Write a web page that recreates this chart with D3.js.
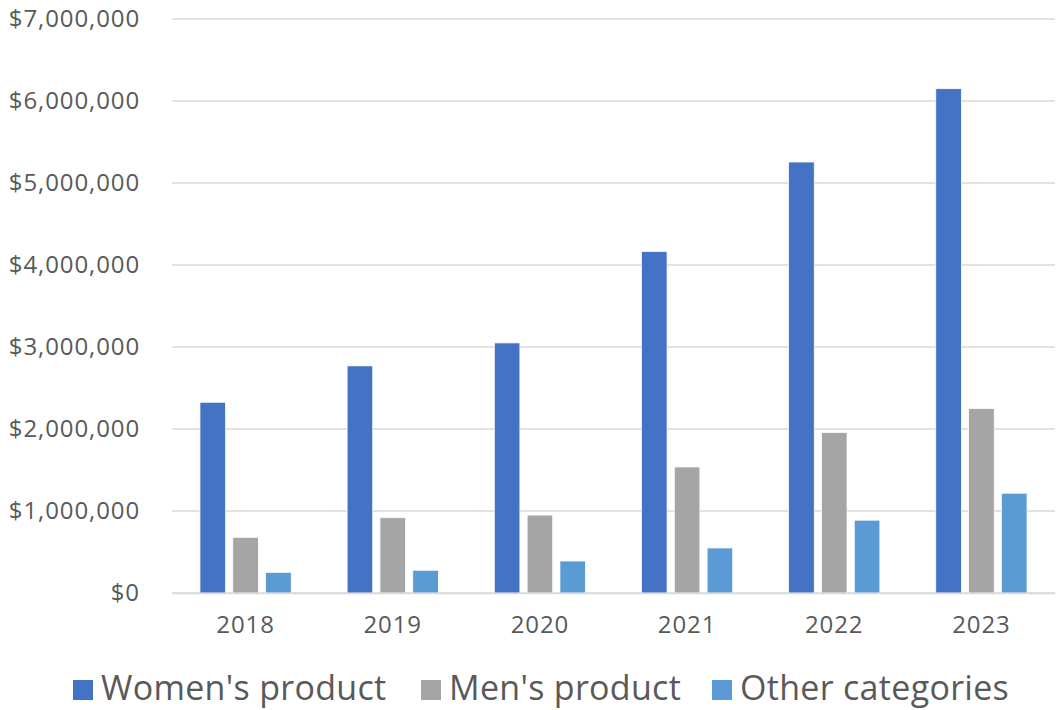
<!DOCTYPE html>
<html>
<head>
<meta charset="utf-8">
<script src="https://cdn.jsdelivr.net/npm/d3@7"></script>
<style>
  body { margin: 0; background: #fff; }
  text { font-family: "Open Sans", sans-serif; fill: #595959; }
</style>
</head>
<body>
<div id="chart-area"></div>
<script>
// data
const years = ["2018", "2019", "2020", "2021", "2022", "2023"]
const seriesNames = ["Women's product", "Men's product", "Other categories"]
const womens = [2326000, 2770000, 3050000, 4166000, 5256000, 6150000]
const mens = [679000, 918000, 950000, 1537000, 1957000, 2250000]
const others = [252000, 277000, 390000, 549000, 888000, 1217000]
const yTicks = [0, 1000000, 2000000, 3000000, 4000000, 5000000, 6000000, 7000000]
const colors = ["#4472C4", "#A5A5A5", "#5B9BD5"]

const W = 1057
const H = 710
const MARGIN = { LEFT: 172, RIGHT: 2, TOP: 19, BOTTOM: 117 }
const WIDTH = W - MARGIN.LEFT - MARGIN.RIGHT
const HEIGHT = H - MARGIN.TOP - MARGIN.BOTTOM

const svg = d3.select("#chart-area").append("svg")
  .attr("width", W)
  .attr("height", H)

const g = svg.append("g")
  .attr("transform", `translate(${MARGIN.LEFT}, ${MARGIN.TOP})`)

// scales
const x0 = d3.scaleBand().domain(years).range([0, WIDTH]).paddingInner(0.38).paddingOuter(0.19)
const x1 = d3.scaleBand().domain(seriesNames).range([0, x0.bandwidth()]).paddingInner(0.22)
const y = d3.scaleLinear().domain([0, 7000000]).range([HEIGHT, 0])

// gridlines
g.append("g")
  .selectAll("line")
  .data(yTicks)
  .join("line")
    .attr("x1", 0)
    .attr("x2", WIDTH)
    .attr("y1", d => y(d))
    .attr("y2", d => y(d))
    .attr("stroke", "#D9D9D9")
    .attr("stroke-width", 1.5)

// y axis labels
const fmt = d3.format("$,")
const yAxis = g.append("g")
  .call(d3.axisLeft(y).tickValues(yTicks).tickFormat(d => fmt(d)).tickSize(0).tickPadding(32))
yAxis.select(".domain").remove()
yAxis.selectAll("text")
  .attr("font-size", "24px")
  .attr("fill", "#595959")
  .style("letter-spacing", "0.9px")
  .style("font-family", "'Open Sans', sans-serif")

// bars
const data = years.map((yr, i) => ({
  year: yr,
  vals: [womens[i], mens[i], others[i]]
}))

const groups = g.selectAll(".year")
  .data(data)
  .join("g")
    .attr("class", "year")
    .attr("transform", d => `translate(${x0(d.year)}, 0)`)

groups.selectAll("rect")
  .data(d => d.vals.map((v, j) => ({ name: seriesNames[j], value: v, j: j })))
  .join("rect")
    .attr("x", d => x1(d.name))
    .attr("y", d => y(d.value))
    .attr("width", x1.bandwidth())
    .attr("height", d => HEIGHT - y(d.value))
    .attr("fill", d => colors[d.j])
    .attr("stroke", "#fff")
    .attr("stroke-width", 0.75)

// x axis
const xAxis = g.append("g")
  .attr("transform", `translate(0, ${HEIGHT})`)
  .call(d3.axisBottom(x0).tickSize(0).tickPadding(23))
xAxis.select(".domain").attr("stroke", "#D9D9D9").attr("stroke-width", 1.5)
xAxis.selectAll("text")
  .attr("font-size", "24px")
  .attr("fill", "#595959")
  .style("letter-spacing", "0.9px")
  .style("font-family", "'Open Sans', sans-serif")

// legend
const legendX = [73, 421, 712]
const legend = svg.append("g")
  .selectAll("g")
  .data(seriesNames)
  .join("g")
    .attr("transform", (d, i) => `translate(${legendX[i]}, 680)`)

legend.append("rect")
  .attr("width", 20)
  .attr("height", 20)
  .attr("fill", (d, i) => colors[i])

legend.append("text")
  .attr("x", 28)
  .attr("y", 20)
  .attr("font-size", "34px")
  .style("letter-spacing", "0.3px")
  .text(d => d)
</script>
</body>
</html>
